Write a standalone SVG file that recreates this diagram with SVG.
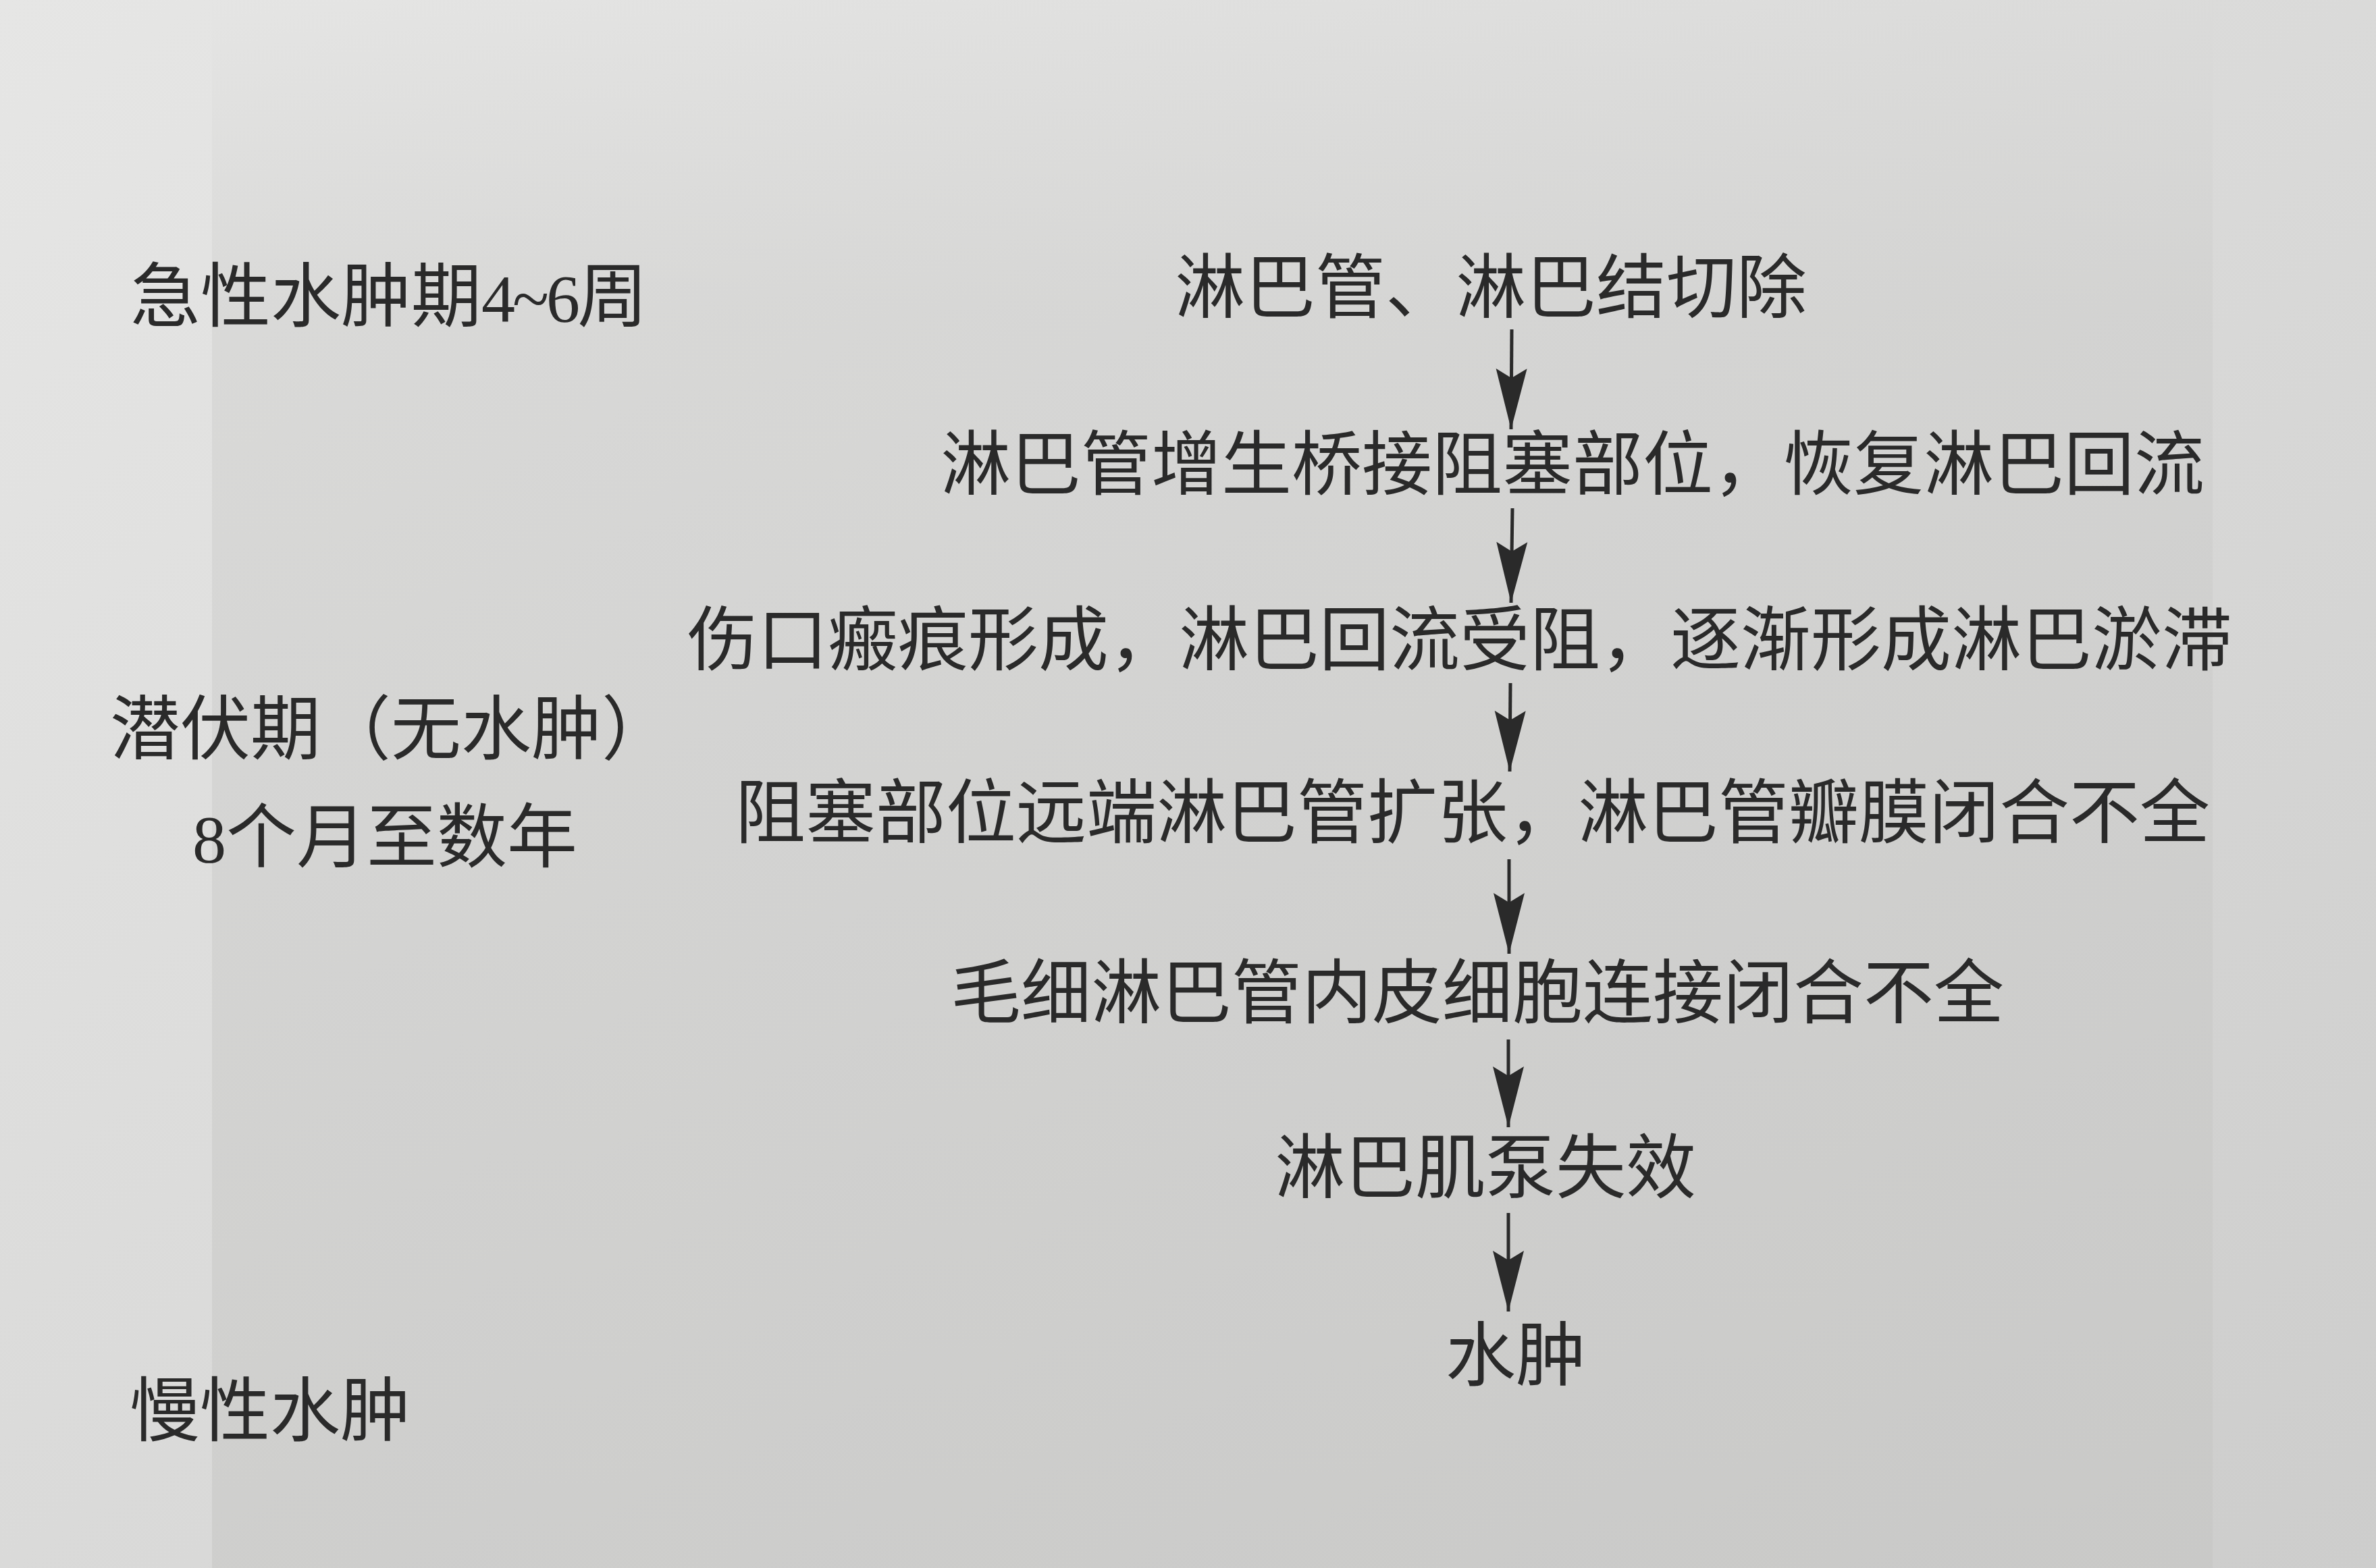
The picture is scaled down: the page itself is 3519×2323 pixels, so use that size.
<svg xmlns="http://www.w3.org/2000/svg" width="3519" height="2323" viewBox="0 0 3519 2323">
<style>
.t{font-family:"Noto Sans CJK SC","Noto Sans CJK TC",sans-serif;font-size:104px;fill:#2a2a2a}
.d{font-family:"Liberation Serif",serif;font-size:100px}
.c{stroke:#2a2a2a;stroke-width:5;fill:none}
</style>
<defs>
<linearGradient id="bg" x1="0" y1="0" x2="1" y2="1">
<stop offset="0" stop-color="#e6e6e5"/>
<stop offset="0.5" stop-color="#dadad9"/>
<stop offset="1" stop-color="#cdcdcc"/>
</linearGradient>
<linearGradient id="pg" x1="0" y1="0" x2="0" y2="1">
<stop offset="0" stop-color="#c8c8c6" stop-opacity="0"/>
<stop offset="0.2" stop-color="#c8c8c6" stop-opacity="0.35"/>
<stop offset="1" stop-color="#c4c4c2" stop-opacity="0.5"/>
</linearGradient>
<marker id="ah" markerUnits="userSpaceOnUse" viewBox="0 -25 100 50" markerWidth="100" markerHeight="50" refX="90" refY="0" orient="auto">
<path d="M90,0 L0,-23 L14,0 L0,23 Z" fill="#2a2a2a"/>
</marker>
</defs>
<rect x="0" y="0" width="3519" height="2323" fill="url(#bg)"/>
<rect x="314" y="0" width="2963" height="2323" fill="url(#pg)"/>
<g id="connectors">
<line class="c" x1="2239" y1="488" x2="2238" y2="636" marker-end="url(#ah)"/>
<line class="c" x1="2240" y1="753" x2="2238" y2="893" marker-end="url(#ah)"/>
<line class="c" x1="2237" y1="1012" x2="2236" y2="1143" marker-end="url(#ah)"/>
<line class="c" x1="2235" y1="1273" x2="2235" y2="1413" marker-end="url(#ah)"/>
<line class="c" x1="2234" y1="1540" x2="2234" y2="1670" marker-end="url(#ah)"/>
<line class="c" x1="2234" y1="1797" x2="2234" y2="1943" marker-end="url(#ah)"/>
</g>
<g id="stage-acute"><text class="t" x="193" y="476">急性水肿期<tspan class="d" letter-spacing="-4">4~6</tspan>周</text></g>
<g id="stage-latent"><text class="t" x="163" y="1117">潜伏期（无水肿）</text><text class="t" x="285" y="1277"><tspan class="d">8</tspan>个月至数年</text></g>
<g id="stage-chronic"><text class="t" x="192" y="2127">慢性水肿</text></g>
<g id="n1"><text class="t" x="1740" y="463">淋巴管、淋巴结切除</text></g>
<g id="n2"><text class="t" x="1393" y="725">淋巴管增生桥接阻塞部位，恢复淋巴回流</text></g>
<g id="n3"><text class="t" x="1018" y="985">伤口瘢痕形成，淋巴回流受阻，逐渐形成淋巴淤滞</text></g>
<g id="n4"><text class="t" x="1089" y="1241">阻塞部位远端淋巴管扩张，淋巴管瓣膜闭合不全</text></g>
<g id="n5"><text class="t" x="1408" y="1508">毛细淋巴管内皮细胞连接闭合不全</text></g>
<g id="n6"><text class="t" x="1888" y="1767">淋巴肌泵失效</text></g>
<g id="n7"><text class="t" x="2141" y="2045">水肿</text></g>
</svg>
